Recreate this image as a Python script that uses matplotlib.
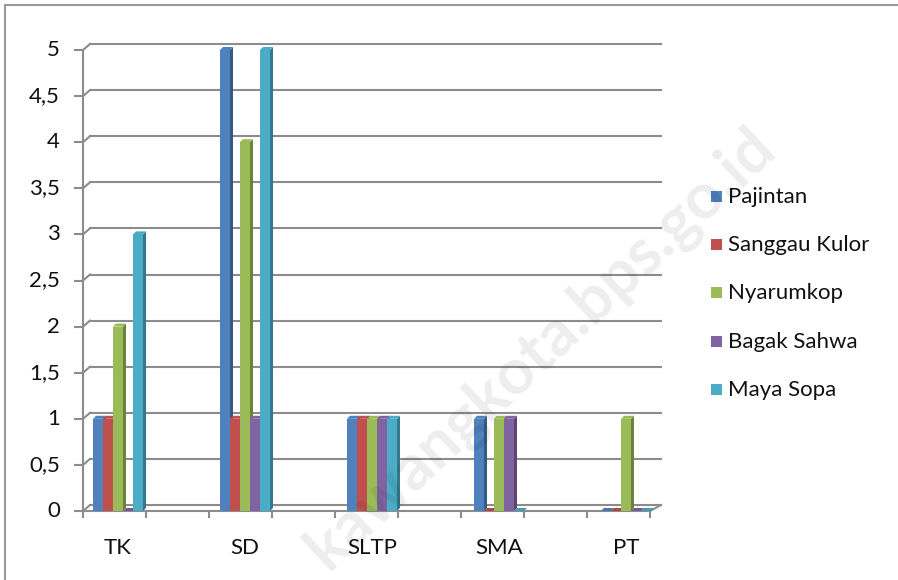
import numpy as np
import matplotlib
matplotlib.use("Agg")
import matplotlib.pyplot as plt
from matplotlib.patches import Polygon, Rectangle

categories = ["TK", "SD", "SLTP", "SMA", "PT"]
series_names = ["Pajintan", "Sanggau Kulor", "Nyarumkop", "Bagak Sahwa", "Maya Sopa"]
pajintan = [1, 5, 1, 1, 0]
sanggau_kulor = [1, 1, 1, 0, 0]
nyarumkop = [2, 4, 1, 1, 1]
bagak_sahwa = [0, 1, 1, 1, 0]
maya_sopa = [3, 5, 1, 0, 0]
y_ticks = [0, 0.5, 1, 1.5, 2, 2.5, 3, 3.5, 4, 4.5, 5]
y_tick_labels = ["0", "0,5", "1", "1,5", "2", "2,5", "3", "3,5", "4", "4,5", "5"]

series = [pajintan, sanggau_kulor, nyarumkop, bagak_sahwa, maya_sopa]
colors = ["#4F81BD", "#C0504D", "#9BBB59", "#8064A2", "#4BACC6"]

W, H = 898, 580
FONT = "Lato"
FS = 16

fig = plt.figure(figsize=(W / 100, H / 100), dpi=100)

def fx(x, y):
    # pixel (top-left origin) -> figure fraction
    return x / W, 1 - y / H

# plot area in pixels: left axis at 83, back right end 661, value 0 at 511, value 5 at 50
ax = fig.add_axes([83 / W, (H - 511) / H, (661 - 83) / W, (511 - 50) / H])
ax.set_xlim(-0.2756, 4.2756)
ax.set_ylim(0, 5)
ax.axis("off")

PX_X = 1 / 127.0   # data units per pixel in x
PX_Y = 5 / 461.0   # data units per pixel in y
def dx(p):
    return p * PX_X
def dy(p):
    return p * PX_Y

grid_col = "#8c8c8c"
x_left = ax.get_xlim()[0]
x_back_start = x_left + dx(7)
x_right = ax.get_xlim()[1]
back = dy(6)

# gridlines (back wall) and left axis
for v in y_ticks:
    ax.plot([x_back_start, x_right], [v + back, v + back], color=grid_col, lw=1.5, zorder=1, clip_on=False)
    ax.plot([x_left, x_back_start], [v, v + back], color=grid_col, lw=1.5, zorder=1, clip_on=False)
    ax.plot([x_left - dx(8), x_left], [v, v], color=grid_col, lw=1.5, zorder=1, clip_on=False)
ax.plot([x_left, x_left], [0, 5], color=grid_col, lw=1.5, zorder=1, clip_on=False)

# floor front edge and its tick marks
x_front_end = x_left + dx(567)
ax.plot([x_left, x_front_end], [0, 0], color=grid_col, lw=1.5, zorder=1, clip_on=False)
ax.plot([x_front_end, x_right], [0, back], color=grid_col, lw=1.5, zorder=1, clip_on=False)
for k in range(10):
    xt = x_left + dx(63) * k
    ax.plot([xt, xt], [0, -dy(6)], color=grid_col, lw=1.5, zorder=1, clip_on=False)

for i, lab in enumerate(y_tick_labels):
    ax.text(x_left - dx(23), y_ticks[i], lab, ha="right", va="center",
            fontsize=FS, family=FONT, color="#111111")

# bars with a small 3D side and top face
bw = dx(10)
ddx, ddy = dx(3), dy(3)
def shade(c, f):
    r, g, b = matplotlib.colors.to_rgb(c)
    return (r * f, g * f, b * f)

x_pos = np.arange(len(categories))
for i in x_pos:
    for j, vals in enumerate(series):
        v = vals[i]
        xl = i - 2.5 * bw + j * bw
        c = colors[j]
        z = 3 + j * 0.1
        if v > 0:
            ax.add_patch(Polygon([(xl + bw, 0), (xl + bw + ddx, ddy), (xl + bw + ddx, v + ddy), (xl + bw, v)],
                                 closed=True, fc=shade(c, 0.7), ec="none", zorder=z, clip_on=False))
            ax.add_patch(Rectangle((xl, 0), bw, v, fc=c, ec="none", zorder=z, clip_on=False))
        ax.add_patch(Polygon([(xl, v), (xl + ddx, v + ddy), (xl + bw + ddx, v + ddy), (xl + bw, v)],
                             closed=True, fc=shade(c, 1.0 if v > 0 else 0.9), ec="none", zorder=z, clip_on=False))

for i, cat in enumerate(categories):
    ax.text(i, -dy(37), cat, ha="center", va="center", fontsize=FS, family=FONT, color="#111111")

# legend
leg_y = [197, 245, 293, 342, 390]
for name, c, yy in zip(series_names, colors, leg_y):
    x0, y0 = fx(711, yy + 5)
    fig.add_artist(Rectangle((x0, y0), 11 / W, 11 / H, transform=fig.transFigure, fc=c, ec="none"))
    tx, ty = fx(728, yy)
    fig.text(tx, ty, name, ha="left", va="center", fontsize=FS, family=FONT, color="#111111")

# outer chart border (top and left)
fig.add_artist(plt.Line2D([5 / W, 1], [1 - 5 / H, 1 - 5 / H], transform=fig.transFigure, color="#999999", lw=1.5))
fig.add_artist(plt.Line2D([5 / W, 5 / W], [0, 1 - 5 / H], transform=fig.transFigure, color="#999999", lw=1.5))

# watermark (only the visible part of the site name)
wx, wy = fx(766, 138)
fig.text(wx, wy, "kawangkota.bps.go.id", ha="right", va="center", rotation=43,
         rotation_mode="anchor", fontsize=46, fontweight="bold", family=FONT,
         color="#000000", alpha=0.07, zorder=10)

fig.savefig("out.png", dpi=100)
